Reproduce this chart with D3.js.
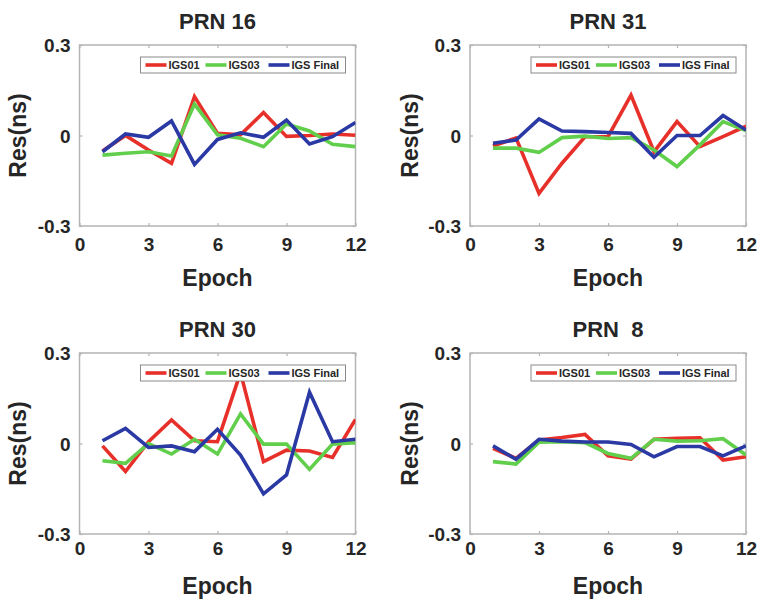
<!DOCTYPE html>
<html>
<head>
<meta charset="utf-8">
<script src="https://cdn.jsdelivr.net/npm/d3@7/dist/d3.min.js"></script>
<style>
  html, body { margin: 0; padding: 0; background: #fff; }
  svg { display: block; }
  text { font-family: "Liberation Sans", Arial, sans-serif; font-weight: bold; fill: #262626; }
</style>
</head>
<body>
<svg id="chart" width="762" height="602"></svg>
<script>
// ---- data ----
const epochs = [1, 2, 3, 4, 5, 6, 7, 8, 9, 10, 11, 12];
const seriesNames = ["IGS01", "IGS03", "IGS Final"];
const seriesColors = ["#e8302a", "#62cf4c", "#2a39a4"];
const xTicks = [0, 3, 6, 9, 12];
const yTicks = [-0.3, 0, 0.3];
const yTickLabels = ["-0.3", "0", "0.3"];
const panelTitles = ["PRN 16", "PRN 31", "PRN 30", "PRN  8"];

const prn16_igs01 = [-0.051, 0.0, -0.048, -0.092, 0.129, 0.007, 0.002, 0.076, -0.003, 0.0, 0.005, 0.001];
const prn16_igs03 = [-0.065, -0.059, -0.054, -0.068, 0.104, 0.002, -0.009, -0.037, 0.038, 0.015, -0.029, -0.037];
const prn16_final = [-0.054, 0.005, -0.006, 0.048, -0.096, -0.013, 0.009, -0.006, 0.051, -0.028, -0.004, 0.043];

const prn31_igs01 = [-0.035, -0.008, -0.192, -0.092, -0.004, -0.004, 0.134, -0.054, 0.046, -0.037, -0.004, 0.031];
const prn31_igs03 = [-0.042, -0.042, -0.056, -0.007, -0.002, -0.010, -0.007, -0.048, -0.103, -0.031, 0.046, 0.016];
const prn31_final = [-0.026, -0.015, 0.055, 0.015, 0.013, 0.010, 0.007, -0.072, 0.0, 0.0, 0.066, 0.018];

const prn30_igs01 = [-0.008, -0.093, 0.006, 0.078, 0.009, 0.006, 0.235, -0.060, -0.022, -0.025, -0.046, 0.080];
const prn30_igs03 = [-0.057, -0.066, 0.0, -0.035, 0.014, -0.035, 0.098, -0.002, -0.002, -0.086, -0.002, 0.003];
const prn30_final = [0.009, 0.050, -0.013, -0.008, -0.027, 0.047, -0.038, -0.167, -0.104, 0.170, 0.006, 0.014];

const prn8_igs01 = [-0.016, -0.049, 0.012, 0.020, 0.030, -0.041, -0.052, 0.014, 0.017, 0.019, -0.055, -0.044];
const prn8_igs03 = [-0.060, -0.068, 0.004, 0.006, 0.003, -0.033, -0.049, 0.014, 0.008, 0.009, 0.016, -0.038];
const prn8_final = [-0.008, -0.052, 0.014, 0.008, 0.005, 0.005, -0.003, -0.044, -0.010, -0.010, -0.041, -0.008];

const panelData = [
  [prn16_igs01, prn16_igs03, prn16_final],
  [prn31_igs01, prn31_igs03, prn31_final],
  [prn30_igs01, prn30_igs03, prn30_final],
  [prn8_igs01, prn8_igs03, prn8_final]
];

// ---- layout ----
const panels = [
  { x0: 79.5, x1: 355.5, y0: 45, y1: 226, tickOff: 25, labX: 18 },
  { x0: 470, x1: 746, y0: 45, y1: 226, tickOff: 25, labX: 410 },
  { x0: 79.5, x1: 355.5, y0: 353, y1: 534, tickOff: 21, labX: 18 },
  { x0: 470, x1: 746, y0: 353, y1: 534, tickOff: 21, labX: 410 }
];

const svg = d3.select("#chart");
const axisColor = "#b4b4b4";

panels.forEach((p, pi) => {
  const g = svg.append("g");
  const x = d3.scaleLinear().domain([0, 12]).range([p.x0, p.x1]);
  const y = d3.scaleLinear().domain([-0.3, 0.3]).range([p.y1, p.y0]);

  // clip
  const clipId = "clip" + pi;
  svg.append("clipPath").attr("id", clipId)
    .append("rect").attr("x", p.x0).attr("y", p.y0)
    .attr("width", p.x1 - p.x0).attr("height", p.y1 - p.y0);

  // box
  g.append("rect").attr("x", p.x0).attr("y", p.y0)
    .attr("width", p.x1 - p.x0).attr("height", p.y1 - p.y0)
    .attr("fill", "#fff").attr("stroke", axisColor).attr("stroke-width", 1.5);

  // axes with inward ticks, via d3 axes
  const tl = 3;
  const xb = g.append("g").attr("transform", `translate(0,${p.y1})`)
    .call(d3.axisBottom(x).tickValues(xTicks).tickSize(-tl).tickFormat(d3.format("d")));
  const xt = g.append("g").attr("transform", `translate(0,${p.y0})`)
    .call(d3.axisTop(x).tickValues(xTicks).tickSize(-tl).tickFormat(""));
  const yl = g.append("g").attr("transform", `translate(${p.x0},0)`)
    .call(d3.axisLeft(y).tickValues(yTicks).tickSize(-tl).tickFormat((d, i) => yTickLabels[i]));
  const yr = g.append("g").attr("transform", `translate(${p.x1},0)`)
    .call(d3.axisRight(y).tickValues(yTicks).tickSize(-tl).tickFormat(""));
  [xb, xt, yl, yr].forEach(a => {
    a.select(".domain").remove();
    a.selectAll(".tick line").attr("stroke", axisColor).attr("stroke-width", 1.2);
  });
  xb.selectAll(".tick text")
    .attr("y", p.tickOff).attr("dy", 0)
    .style("font-size", "19px").style("font-family", "Liberation Sans, Arial, sans-serif")
    .style("font-weight", "bold").attr("fill", "#262626");
  yl.selectAll(".tick text")
    .attr("x", -9).attr("dy", "0.36em")
    .style("font-size", "19px").style("font-family", "Liberation Sans, Arial, sans-serif")
    .style("font-weight", "bold").attr("fill", "#262626");

  // lines
  const line = d3.line().x((d, i) => x(epochs[i])).y(d => y(d));
  const lg = g.append("g").attr("clip-path", `url(#${clipId})`);
  panelData[pi].forEach((vals, si) => {
    lg.append("path").datum(vals)
      .attr("d", line)
      .attr("fill", "none")
      .attr("stroke", seriesColors[si])
      .attr("stroke-width", 3.6)
      .attr("stroke-linejoin", "miter")
      .attr("stroke-miterlimit", 3);
  });

  // legend
  const legW = 205, legH = 16;
  const lx = p.x1 - 10 - legW, ly = p.y0 + 12;
  const leg = g.append("g").attr("transform", `translate(${lx},${ly})`);
  leg.append("rect").attr("width", legW).attr("height", legH)
    .attr("fill", "#fff").attr("stroke", "#8a8a8a").attr("stroke-width", 1);
  const entryX = [5, 65, 128];
  seriesNames.forEach((n, si) => {
    leg.append("line").attr("x1", entryX[si]).attr("x2", entryX[si] + 21)
      .attr("y1", legH / 2).attr("y2", legH / 2)
      .attr("stroke", seriesColors[si]).attr("stroke-width", 3.6);
    leg.append("text").attr("x", entryX[si] + 23).attr("y", legH / 2)
      .attr("dy", "0.36em").style("font-size", "11px").text(n);
  });

  // title
  g.append("text").attr("x", (p.x0 + p.x1) / 2).attr("y", p.y0 - 16)
    .attr("text-anchor", "middle").style("font-size", "22px")
    .style("white-space", "pre").attr("xml:space", "preserve")
    .text(panelTitles[pi]);

  // x label
  g.append("text").attr("x", (p.x0 + p.x1) / 2).attr("y", p.y1 + 60)
    .attr("text-anchor", "middle").style("font-size", "23px").text("Epoch");

  // y label
  g.append("text")
    .attr("transform", `translate(${p.labX},${(p.y0 + p.y1) / 2}) rotate(-90)`)
    .attr("text-anchor", "middle").attr("dy", "0.36em")
    .style("font-size", "23px").text("Res(ns)");
});
</script>
</body>
</html>
